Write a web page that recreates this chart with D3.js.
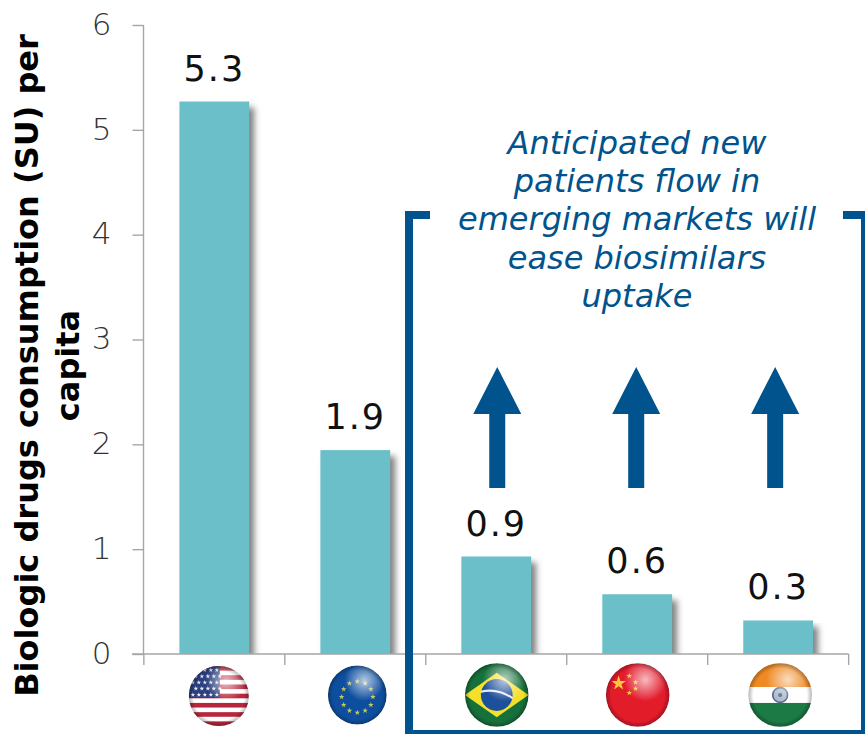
<!DOCTYPE html>
<html>
<head>
<meta charset="utf-8">
<script src="https://cdn.jsdelivr.net/npm/d3@7/dist/d3.min.js"></script>
<style>
html,body{margin:0;padding:0;background:#fff}
svg{display:block}
text{font-family:"DejaVu Sans",sans-serif}
</style>
</head>
<body>
<svg id="chart" width="865" height="734"></svg>
<script>
const regions = ["USA", "EU", "Brazil", "China", "India"];
const consumption = [5.27, 1.945, 0.93, 0.57, 0.32];
const yTicks = [0, 1, 2, 3, 4, 5, 6];
const titleLines = ["Biologic drugs consumption (SU) per", "capita"];
const noteLines = ["Anticipated new", "patients flow in", "emerging markets will", "ease biosimilars", "uptake"];
const risingRegions = ["Brazil", "China", "India"];

const barColor = "#6bbfc9";
const navy = "#00538c";
const axisColor = "#a6a6a6";

const svg = d3.select("#chart");
const defs = svg.append("defs");

const x = d3.scaleBand().domain(regions).range([143.5, 849]).paddingInner(0.505).paddingOuter(0.255);
const y = d3.scaleLinear().domain([0, 6]).range([654, 25]);
const cx = r => x(r) + x.bandwidth() / 2;

// soft shadow behind each bar
defs.append("filter").attr("id", "barShadow").attr("x", "-30%").attr("width", "160%")
  .append("feGaussianBlur").attr("stdDeviation", 3);
defs.append("clipPath").attr("id", "aboveAxis").append("rect")
  .attr("x", 0).attr("y", 0).attr("width", 865).attr("height", y(0));

svg.append("g").attr("clip-path", "url(#aboveAxis)").selectAll("rect")
  .data(regions).join("rect")
  .attr("x", d => x(d) + 5)
  .attr("y", (d, i) => y(consumption[i]) + 6)
  .attr("width", x.bandwidth())
  .attr("height", (d, i) => y(0) - y(consumption[i]))
  .attr("fill", "#808080")
  .attr("filter", "url(#barShadow)");

svg.append("g").selectAll("rect")
  .data(regions).join("rect")
  .attr("x", d => x(d))
  .attr("y", (d, i) => y(consumption[i]))
  .attr("width", x.bandwidth())
  .attr("height", (d, i) => y(0) - y(consumption[i]))
  .attr("fill", barColor);

// value axis
const yAxis = svg.append("g").attr("transform", "translate(143.5,0)")
  .call(d3.axisLeft(y).tickValues(yTicks).tickSize(11).tickPadding(21).tickFormat(d3.format("d")));
yAxis.select(".domain").attr("stroke", axisColor).attr("stroke-width", 1.4).attr("d", `M0,${y(6)}V${y(0)}`);
yAxis.selectAll(".tick line").attr("stroke", axisColor).attr("stroke-width", 1.4);
yAxis.selectAll(".tick text").attr("font-size", 31).attr("fill", "#333")
  .attr("style", "font-family:'DejaVu Sans Light','DejaVu Sans ExtraLight','DejaVu Sans';font-weight:200")
  .attr("dy", "0.3em");

// baseline with ticks on the band edges
const edges = regions.map(r => x(r) - x.step() * x.paddingInner() / 2)
  .concat(x(regions[4]) + x.bandwidth() + x.step() * x.paddingInner() / 2);
const base = svg.append("g").attr("stroke", axisColor).attr("stroke-width", 1.4);
base.append("line").attr("x1", 132).attr("x2", edges[5]).attr("y1", y(0)).attr("y2", y(0));
base.selectAll(".edge").data(edges).join("line").attr("class", "edge")
  .attr("x1", d => d).attr("x2", d => d).attr("y1", y(0)).attr("y2", y(0) + 11);

// value labels
svg.append("g").selectAll("text")
  .data(regions).join("text")
  .attr("x", d => cx(d))
  .attr("y", (d, i) => y(consumption[i]) - 21)
  .attr("text-anchor", "middle")
  .attr("font-size", 35)
  .attr("letter-spacing", 2)
  .attr("fill", "#111")
  .text((d, i) => d3.format(".1f")(consumption[i]));

// axis title
svg.append("g").attr("transform", "rotate(-90)")
  .selectAll("text").data(titleLines).join("text")
  .attr("x", -365.5)
  .attr("y", (d, i) => 38 + i * 41)
  .attr("text-anchor", "middle")
  .attr("font-size", 32)
  .attr("font-weight", 700)
  .attr("fill", "#000")
  .text(d => d);

// bracket round the emerging markets
svg.append("path")
  .attr("d", "M430,215H409V734H865V215H843")
  .attr("fill", "none").attr("stroke", navy).attr("stroke-width", 8);

// note above the bracket
svg.append("g").selectAll("text").data(noteLines).join("text")
  .attr("x", 637)
  .attr("y", (d, i) => 154 + i * 38.2)
  .attr("text-anchor", "middle")
  .attr("font-size", 32)
  .attr("font-style", "italic")
  .attr("fill", navy)
  .text(d => d);

// upward arrows over the emerging markets
const arrowShift = [1, -1, -3];
const arrow = d3.path();
arrow.moveTo(0, 367); arrow.lineTo(24, 414); arrow.lineTo(8, 414); arrow.lineTo(8, 488);
arrow.lineTo(-8, 488); arrow.lineTo(-8, 414); arrow.lineTo(-24, 414); arrow.closePath();
svg.append("g").selectAll("path").data(risingRegions).join("path")
  .attr("transform", (d, i) => `translate(${cx(d) + arrowShift[i]},0)`)
  .attr("d", arrow.toString())
  .attr("fill", navy);

// round glossy flags under the axis
const star = d3.symbol().type(d3.symbolStar);
const gloss = defs.append("radialGradient").attr("id", "gloss")
  .attr("cx", "62%").attr("cy", "26%").attr("r", "34%");
gloss.append("stop").attr("offset", "0%").attr("stop-color", "#fff").attr("stop-opacity", 0.7);
gloss.append("stop").attr("offset", "100%").attr("stop-color", "#fff").attr("stop-opacity", 0);
const rim = defs.append("radialGradient").attr("id", "rim");
rim.append("stop").attr("offset", "84%").attr("stop-color", "#000").attr("stop-opacity", 0);
rim.append("stop").attr("offset", "100%").attr("stop-color", "#000").attr("stop-opacity", 0.28);
defs.append("clipPath").attr("id", "disc").append("circle").attr("r", 30);
defs.append("filter").attr("id", "soft").append("feGaussianBlur").attr("stdDeviation", 0.5);

const flagSpots = [
  { r: "USA", dx: 4.5, dy: 42, s: 1.0 }, { r: "EU", dx: 2, dy: 41, s: 0.98 }, { r: "Brazil", dx: 0.5, dy: 41, s: 1.06 },
  { r: "China", dx: 0.5, dy: 41, s: 1.06 }, { r: "India", dx: 2, dy: 41, s: 1.06 }
];

const painters = {
  USA(g) {
    g.append("rect").attr("x", -30).attr("y", -30).attr("width", 60).attr("height", 60).attr("fill", "#fff");
    d3.range(13).filter(i => i % 2 === 0).forEach(i => {
      g.append("rect").attr("x", -30).attr("y", -30 + i * 60 / 13).attr("width", 60).attr("height", 60 / 13).attr("fill", "#b8263c");
    });
    g.append("rect").attr("x", -30).attr("y", -30).attr("width", 31).attr("height", 32).attr("fill", "#2b3f7e");
    d3.range(5).forEach(row => d3.range(5).forEach(col => {
      g.append("path").attr("d", star.size(7)())
        .attr("transform", `translate(${-26 + col * 6 + (row % 2) * 3},${-26 + row * 6.2})`).attr("fill", "#e8ecf5");
    }));
  },
  EU(g) {
    g.append("circle").attr("r", 30).attr("fill", "#0f4f9e");
    d3.range(12).forEach(i => {
      const a = i * Math.PI / 6;
      g.append("path").attr("d", star.size(10)())
        .attr("transform", `translate(${16 * Math.sin(a)},${2 - 16 * Math.cos(a)})`).attr("fill", "#c9c95a");
    });
  },
  Brazil(g) {
    g.append("circle").attr("r", 30).attr("fill", "#15703a");
    g.append("path").attr("d", "M0,-21L30,0L0,21L-30,0Z").attr("fill", "#f4e02c");
    g.append("circle").attr("r", 15).attr("fill", "#1f4f9c");
    g.append("path").attr("d", "M-15,-3Q0,-7 15,3").attr("fill", "none").attr("stroke", "#e6ecf3").attr("stroke-width", 2);
  },
  China(g) {
    g.append("circle").attr("r", 30).attr("fill", "#e31b2c");
    g.append("path").attr("d", star.size(60)()).attr("transform", "translate(-18,-11)").attr("fill", "#f7c83c");
    [[-8, -18], [-2, -12], [-2, -6], [-8, -2]].forEach(p => {
      g.append("path").attr("d", star.size(9)()).attr("transform", `translate(${p[0]},${p[1]})`).attr("fill", "#f7c83c");
    });
  },
  India(g) {
    g.append("rect").attr("x", -30).attr("y", -30).attr("width", 60).attr("height", 22.5).attr("fill", "#ef8a24");
    g.append("rect").attr("x", -30).attr("y", -7.5).attr("width", 60).attr("height", 15).attr("fill", "#fff");
    g.append("rect").attr("x", -30).attr("y", 7.5).attr("width", 60).attr("height", 22.5).attr("fill", "#1c7a45");
    g.append("circle").attr("r", 7).attr("fill", "#aebccc").attr("stroke", "#55688a").attr("stroke-width", 1.6);
    g.append("circle").attr("r", 2).attr("fill", "#55688a");
  }
};

flagSpots.forEach(f => {
  const holder = svg.append("g")
    .attr("transform", `translate(${cx(f.r) + f.dx},${y(0) + f.dy}) scale(${f.s})`)
    .attr("filter", "url(#soft)");
  const inner = holder.append("g").attr("clip-path", "url(#disc)");
  painters[f.r](inner);
  holder.append("circle").attr("r", 30).attr("fill", "url(#gloss)");
  holder.append("circle").attr("r", 30).attr("fill", "url(#rim)");
});
</script>
</body>
</html>
